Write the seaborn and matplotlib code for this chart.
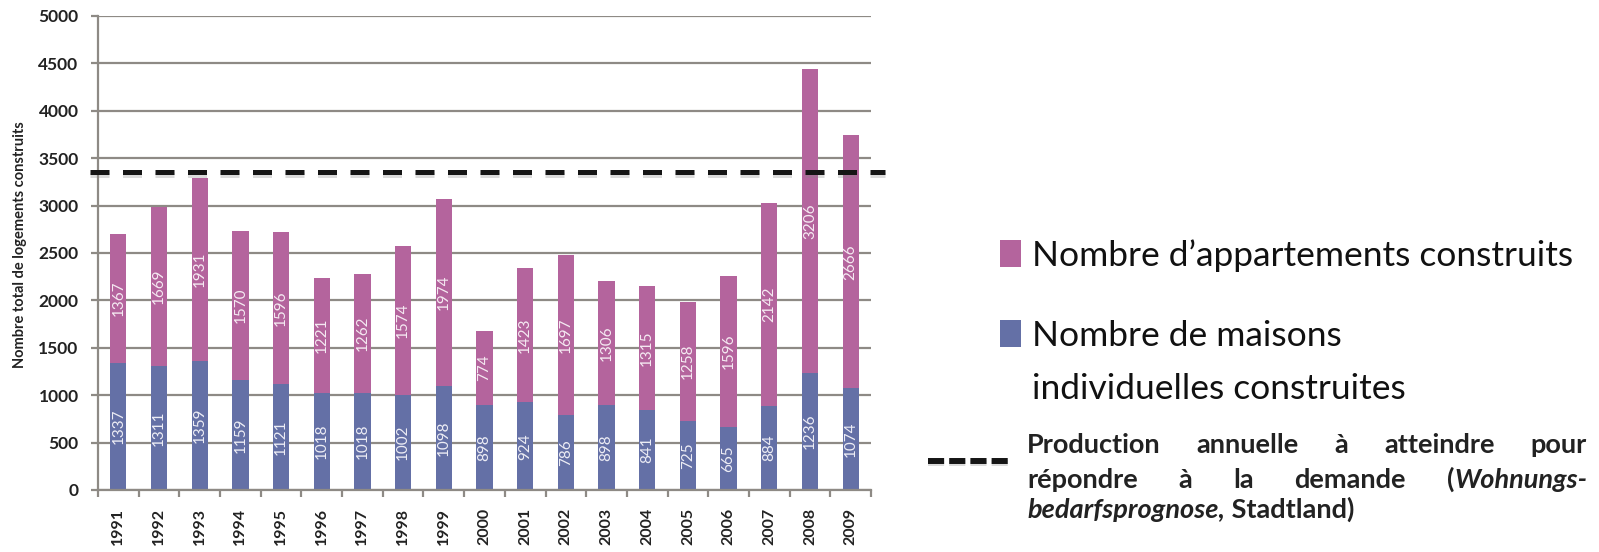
import numpy as np
import pandas as pd
import matplotlib
matplotlib.use("Agg")
import matplotlib.pyplot as plt
import matplotlib.patheffects as pe
import seaborn as sns
from matplotlib.patches import Rectangle
from matplotlib.lines import Line2D

years = [str(y) for y in range(1991, 2010)]
maisons = [1337, 1311, 1359, 1159, 1121, 1018, 1018, 1002, 1098, 898,
           924, 786, 898, 841, 725, 665, 884, 1236, 1074]
appartements = [1367, 1669, 1931, 1570, 1596, 1221, 1262, 1574, 1974, 774,
                1423, 1697, 1306, 1315, 1258, 1596, 2142, 3206, 2666]
objectif = 3350
yticks = [0, 500, 1000, 1500, 2000, 2500, 3000, 3500, 4000, 4500, 5000]

PINK = "#B4649D"
BLUE = "#6470A6"
GRID = "#8E8A85"
FONT = ["Lato", "DejaVu Sans"]

sns.set_theme(style="white")
plt.rcParams["font.family"] = FONT

df = pd.DataFrame({"annee": years, "maisons": maisons, "appartements": appartements})
df["total"] = df["maisons"] + df["appartements"]

W, H = 1599, 552
fig = plt.figure(figsize=(W / 100, H / 100), dpi=100)
ax = fig.add_axes([98 / W, 1 - 490 / H, (871 - 98) / W, (490 - 16) / H])

sns.barplot(data=df, x="annee", y="total", color=PINK, saturation=1, width=0.4,
            ax=ax, zorder=3, edgecolor="none")
sns.barplot(data=df, x="annee", y="maisons", color=BLUE, saturation=1, width=0.4,
            ax=ax, zorder=3, edgecolor="none")

ax.set_ylim(0, 5000)
ax.set_xlim(-0.5, len(years) - 0.5)
ax.set_yticks(yticks)
ax.set_yticklabels([str(t) for t in yticks], fontsize=12.5, fontweight="bold", color="#222222")
ax.grid(axis="y", color=GRID, linewidth=1.6, zorder=0)
ax.grid(axis="x", visible=False)
for s in ["top", "right"]:
    ax.spines[s].set_visible(False)
for s in ["left", "bottom"]:
    ax.spines[s].set_color(GRID)
    ax.spines[s].set_linewidth(1.6)
    ax.spines[s].set_zorder(4)
ax.tick_params(axis="y", which="major", length=5, width=1.6, color=GRID, pad=9, left=True)
ax.tick_params(axis="x", which="major", length=0, pad=13, labelsize=11.5, labelcolor="#222222")
ax.set_xticks(np.arange(-0.5, len(years)), minor=True)
ax.tick_params(axis="x", which="minor", length=5, width=1.6, color=GRID, bottom=True)
for lab in ax.get_xticklabels():
    lab.set_rotation(90)
    lab.set_fontweight("bold")
ax.set_xlabel("")
ax.set_ylabel("")

# value labels
for i in range(len(years)):
    ax.text(i, maisons[i] / 2, str(maisons[i]), rotation=90, ha="center", va="center",
            fontsize=11, color="#EDEDF5", zorder=5)
    ax.text(i, maisons[i] + appartements[i] / 2, str(appartements[i]), rotation=90,
            ha="center", va="center", fontsize=11, color="#F5EAF2", zorder=5)

# target dashed line with soft shadow
shadow = [pe.SimpleLineShadow(offset=(0, -1.5), shadow_color="#888888", alpha=0.3),
          pe.Normal()]
ax.axhline(objectif, xmin=-0.01, xmax=1.018, color="#151515", linewidth=3.6,
           dashes=(3.8, 2.7), clip_on=False, zorder=6, path_effects=shadow)

fig.text(20 / W, 1 - 245 / H, "Nombre total de logements construits", rotation=90,
         ha="center", va="center", fontsize=10.5, fontweight="bold", color="#222222")

# legend (right side)
LFS = 25.5
fig.patches.append(Rectangle((1000 / W, 1 - 267 / H), 21 / W, 27 / H, transform=fig.transFigure,
                             facecolor=PINK, edgecolor="none"))
fig.patches.append(Rectangle((1000 / W, 1 - 347 / H), 21 / W, 27 / H, transform=fig.transFigure,
                             facecolor=BLUE, edgecolor="none"))
fig.text(1032 / W, 1 - 266 / H, "Nombre d\u2019appartements construits", ha="left", va="baseline",
         fontsize=LFS, color="#111111")
fig.text(1032 / W, 1 - 346 / H, "Nombre de maisons", ha="left", va="baseline",
         fontsize=LFS, color="#111111")
fig.text(1032 / W, 1 - 399 / H, "individuelles construites", ha="left", va="baseline",
         fontsize=LFS, color="#111111")
leg_line = Line2D([928 / W, 1008 / W], [1 - 461 / H, 1 - 461 / H], transform=fig.transFigure,
                  color="#151515", linewidth=4.3, dashes=(2.7, 0.85),
                  path_effects=[pe.SimpleLineShadow(offset=(0, -1.5), shadow_color="#888888", alpha=0.3),
                                pe.Normal()])
fig.lines.append(leg_line)

# justified bold paragraph
fig.canvas.draw()
renderer = fig.canvas.get_renderer()
x0, x1 = 1027, 1587
PFS = 19.5


def place_justified(words, ybase):
    arts = []
    widths = []
    for pieces in words:
        parts = []
        wsum = 0
        for txt, style in pieces:
            t = fig.text(0, 1 - ybase / H, txt, ha="left", va="baseline", fontsize=PFS,
                         fontweight="bold", fontstyle=style, color="#222222")
            bb = t.get_window_extent(renderer)
            parts.append((t, bb.width))
            wsum += bb.width
        arts.append(parts)
        widths.append(wsum)
    gap = (x1 - x0 - sum(widths)) / max(len(words) - 1, 1)
    x = x0
    for parts, w in zip(arts, widths):
        xx = x
        for t, pw in parts:
            t.set_x(xx / W)
            xx += pw
        x += w + gap


place_justified([[("Production", "normal")], [("annuelle", "normal")], [("\u00e0", "normal")],
                 [("atteindre", "normal")], [("pour", "normal")]], 453)
place_justified([[("r\u00e9pondre", "normal")], [("\u00e0", "normal")], [("la", "normal")],
                 [("demande", "normal")], [("(", "normal"), ("Wohnungs-", "italic")]], 488)
t1 = fig.text(x0 / W, 1 - 518 / H, "bedarfsprognose,", ha="left", va="baseline", fontsize=PFS,
              fontweight="bold", fontstyle="italic", color="#222222")
bb = t1.get_window_extent(renderer)
fig.text((x0 + bb.width) / W, 1 - 518 / H, " Stadtland)", ha="left", va="baseline", fontsize=PFS,
         fontweight="bold", color="#222222")

fig.savefig("out.png", dpi=100, facecolor="white")
